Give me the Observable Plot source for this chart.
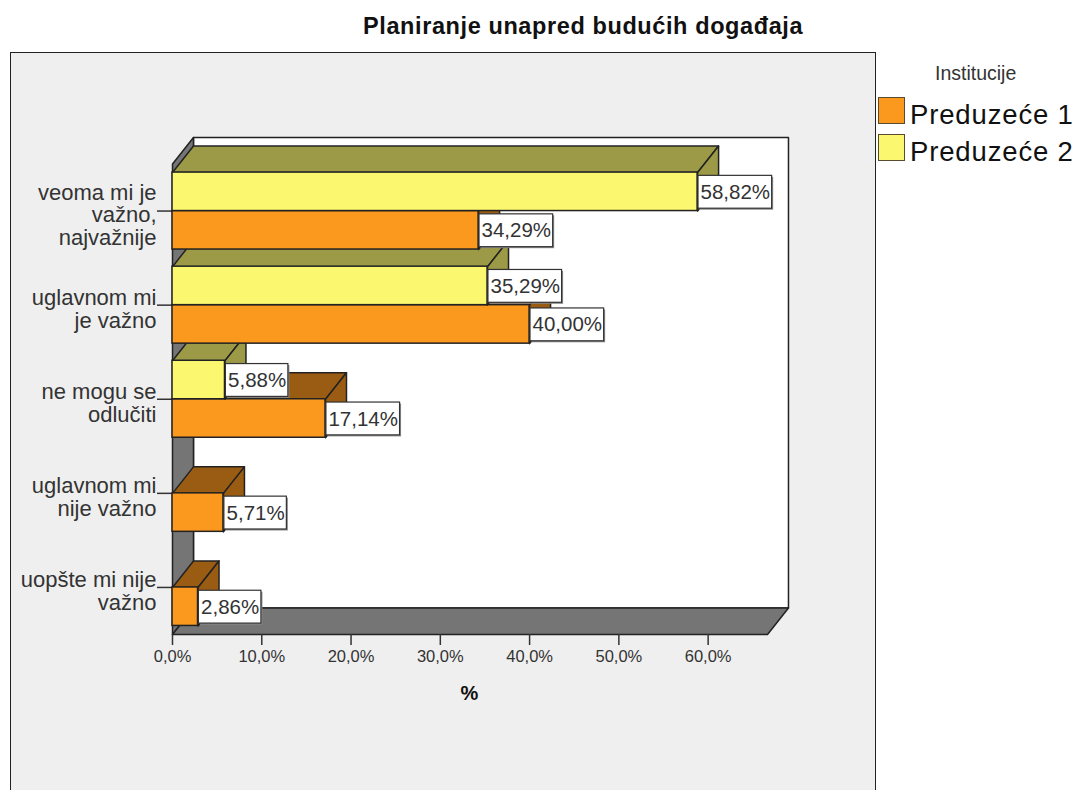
<!DOCTYPE html>
<html><head><meta charset="utf-8">
<script src="https://cdn.jsdelivr.net/npm/d3@7"></script>
<script src="https://cdn.jsdelivr.net/npm/@observablehq/plot@0.6"></script>
<style>
html,body{margin:0;padding:0;background:#fff;width:1078px;height:790px;overflow:hidden;font-family:"Liberation Sans",Arial,sans-serif;}
#panel{position:absolute;left:10px;top:52px;width:864px;height:760px;background:#efefef;border:1.5px solid #222;}
#chart{position:absolute;left:0;top:0;}
#chart svg{background:transparent;}
#title{position:absolute;left:363px;top:13px;font-weight:bold;font-size:23.5px;letter-spacing:.6px;color:#111;white-space:nowrap;}
#legendTitle{position:absolute;left:935px;top:62px;font-size:19.5px;color:#333;white-space:nowrap;}
.sw{position:absolute;left:878px;width:25px;height:25px;border:1.5px solid #5a4a30;}
.lt{position:absolute;left:910px;font-size:27.5px;color:#111;white-space:nowrap;line-height:30px;letter-spacing:.85px;}
</style></head><body>
<div id="panel"></div>
<div id="chart"></div>
<div id="title"></div><div id="legendTitle"></div>
<div id="legend"></div>
<script>
const chartTitle = "Planiranje unapred budućih događaja";
const legendTitle = "Institucije";
const categories = ["veoma mi je\nvažno,\nnajvažnije","uglavnom mi\nje važno","ne mogu se\nodlučiti","uglavnom mi\nnije važno","uopšte mi nije\nvažno"];
const preduzece1 = [34.29,40.00,17.14,5.71,2.86];
const preduzece2 = [58.82,35.29,5.88,null,null];
const seriesNames = ["Preduzeće 1","Preduzeće 2"];
const frontColors = ["#fb991f","#fbf76f"];
const sideColors = ["#9a5c12","#9c9a46"];
const wallColor = "#757575";
const xTicks = [0,10,20,30,40,50,60];
const xMax = 66.65;
const depthX = 2.35, depthY = 0.2816, barH = 0.409;
const yTop = -0.5, yBottom = 4.5;

const edge = {stroke:"#222", strokeWidth:1.5, curve:"linear-closed"};
const poly = (pts, fill) => Plot.line(pts.map(([x,y])=>({x,y})), {x:"x", y:"y", fill, ...edge});
const fmt = v => v.toFixed(2).replace(".",",")+"%";

const ranks = categories.map((_,i)=>i);
const bars = [];
for (let i=categories.length-1;i>=0;i--){
  [preduzece1[i],preduzece2[i]].forEach((v,s)=>{
    if (v==null) return;
    bars.push({rank:i,s,v,y1:s===0?i:i-barH,y2:s===0?i+barH:i});
  });
}
const barMarks = bars.flatMap(b=>[
  poly([[0,b.y1],[b.v,b.y1],[b.v+depthX,b.y1-depthY],[depthX,b.y1-depthY]], sideColors[b.s]),
  poly([[b.v,b.y1],[b.v+depthX,b.y1-depthY],[b.v+depthX,b.y2-depthY],[b.v,b.y2]], sideColors[b.s]),
  Plot.rect([b],{x1:()=>0,x2:"v",y1:"y1",y2:"y2",fill:frontColors[b.s],stroke:"#222",strokeWidth:1.5})
]);
const boxes = bars.map(b=>{
  const w = b.v>=10 ? 8.25 : 7.0;
  return {...b,x1:b.v+0.1,x2:b.v+0.1+w,by1:b.y1+0.035,by2:b.y2-0.025,xc:b.v+0.1+w/2,yc:(b.y1+b.y2)/2+0.005,label:fmt(b.v)};
});

const plot = Plot.plot({
  width:1078,height:790,
  marginLeft:172,marginRight:311,marginTop:163.5,marginBottom:156,
  style:{background:"transparent",fontFamily:"'Liberation Sans',Arial,sans-serif",overflow:"visible"},
  x:{domain:[0,xMax]},
  y:{domain:[yTop,yBottom],range:[163.5,634]},
  marks:[
    poly([[depthX,yTop-depthY],[xMax+depthX,yTop-depthY],[xMax+depthX,yBottom-depthY],[depthX,yBottom-depthY]],"#fff"),
    poly([[0,yTop],[depthX,yTop-depthY],[depthX,yBottom-depthY],[0,yBottom]],wallColor),
    poly([[0,yBottom],[depthX,yBottom-depthY],[xMax+depthX,yBottom-depthY],[xMax,yBottom]],wallColor),
    Plot.axisY(ranks,{anchor:"left",tickSize:15,tickFormat:()=>"",stroke:"#333",strokeWidth:1.5}),
    Plot.axisY(ranks,{anchor:"left",tickSize:0,tickPadding:16,dy:4,fontSize:22,lineHeight:1.04,fill:"#333",tickFormat:i=>categories[i],label:null}),
    Plot.axisX(xTicks,{anchor:"bottom",tickSize:11,tickPadding:4.5,fontSize:16.5,fill:"#333",stroke:"#333",strokeWidth:1.5,tickFormat:d=>d.toFixed(1).replace(".",",")+"%",label:null}),
    Plot.text(["%"],{x:()=>33.25,y:()=>yBottom,dy:59,text:d=>d,fontSize:20,fontWeight:"bold",fill:"#111"}),
    ...barMarks,
    Plot.rect(boxes,{x1:"x1",x2:"x2",y1:"by1",y2:"by2",fill:"#888",dx:1.5,dy:1.5}),
    Plot.rect(boxes,{x1:"x1",x2:"x2",y1:"by1",y2:"by2",fill:"#fff",stroke:"#333",strokeWidth:1.2}),
    Plot.text(boxes,{x:"xc",y:"yc",text:"label",fontSize:20.5,fill:"#333"})
  ]
});
document.getElementById("chart").appendChild(plot);
document.getElementById("title").textContent = chartTitle;
document.getElementById("legendTitle").textContent = legendTitle;
const legend = document.getElementById("legend");
seriesNames.forEach((n,i)=>{
  const top = 97+37*i;
  const sw=document.createElement("div");sw.className="sw";sw.style.top=top+"px";sw.style.background=frontColors[i];legend.appendChild(sw);
  const t=document.createElement("div");t.className="lt";t.style.top=(top+3)+"px";t.textContent=n;legend.appendChild(t);
});
</script>
</body></html>
